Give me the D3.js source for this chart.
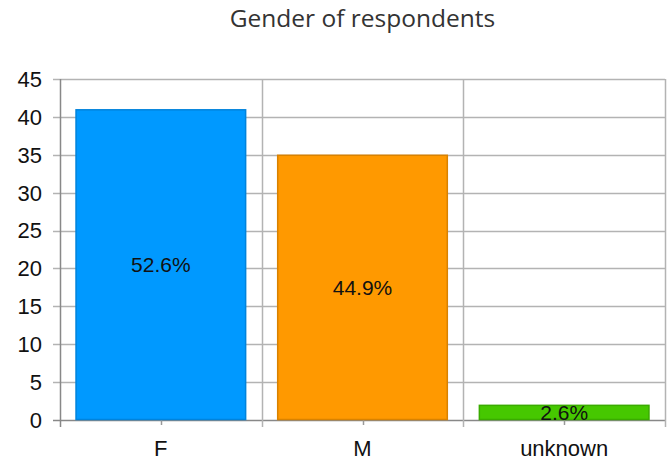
<!DOCTYPE html>
<html>
<head>
<meta charset="utf-8">
<script src="https://cdn.jsdelivr.net/npm/d3@7"></script>
<style>
  body { margin: 0; background: #fff; }
  svg { display: block; }
</style>
</head>
<body>
<div id="canvas"></div>
<script>
var categories = ['F', 'M', 'unknown'];
var counts = [41, 35, 2];
var percentLabels = ['52.6%', '44.9%', '2.6%'];
var yTicks = [0, 5, 10, 15, 20, 25, 30, 35, 40, 45];
var fills = ['#0099ff', '#ff9900', '#46c800'];
var strokes = ['#0083dc', '#d98200', '#3aab00'];

var W = 669, H = 461;
var m = {t: 79, r: 4, b: 41, l: 60},
    w = W - m.l - m.r,
    h = H - m.t - m.b;

var svg = d3.select('#canvas').append('svg')
    .attr('width', W)
    .attr('height', H);

svg.append('text')
    .attr('x', m.l + w / 2)
    .attr('y', 27)
    .attr('text-anchor', 'middle')
    .style('font-family', '"Open Sans", sans-serif')
    .style('font-size', '24.5px')
    .style('fill', '#333')
    .text('Gender of respondents');

var plot = svg.append('g')
    .attr('transform', 'translate(' + m.l + ',' + m.t + ')');

var x = d3.scaleBand().domain(categories).range([0, w]).paddingInner(0.154).paddingOuter(0.077);
var xb = d3.scaleBand().domain(categories).range([0, w]);
var y = d3.scaleLinear().domain([0, 45]).range([h, 0]);

// horizontal gridlines
plot.selectAll('.hgrid')
    .data(yTicks)
    .enter().append('line')
    .attr('x1', -7).attr('x2', w)
    .attr('y1', function(d) { return Math.round(y(d)) + 0.5; })
    .attr('y2', function(d) { return Math.round(y(d)) + 0.5; })
    .style('stroke', function(d) { return d === 0 ? '#888' : '#b3b3b3'; })
    .style('stroke-width', 1.5);

// vertical gridlines at category boundaries
var bounds = categories.map(function(c) { return xb(c); }).concat([w]);
plot.selectAll('.vgrid')
    .data(bounds)
    .enter().append('line')
    .attr('x1', function(d) { return Math.round(d) + 0.5; })
    .attr('x2', function(d) { return Math.round(d) + 0.5; })
    .attr('y1', 0).attr('y2', h + 7)
    .style('stroke', function(d, i) { return i === 0 ? '#888' : '#b3b3b3'; })
    .style('stroke-width', 1.5);

// short ticks at category centers
plot.selectAll('.ctick')
    .data(categories)
    .enter().append('line')
    .attr('x1', function(d) { return Math.round(xb(d) + xb.bandwidth() / 2) + 0.5; })
    .attr('x2', function(d) { return Math.round(xb(d) + xb.bandwidth() / 2) + 0.5; })
    .attr('y1', h).attr('y2', h + 5)
    .style('stroke', '#999')
    .style('stroke-width', 1.5);

// bars
plot.selectAll('.bar')
    .data(counts)
    .enter().append('rect')
    .attr('x', function(d, i) { return x(categories[i]) + 0.5; })
    .attr('y', function(d) { return y(d) + 0.5; })
    .attr('width', x.bandwidth() - 1)
    .attr('height', function(d) { return h - y(d) - 1; })
    .style('fill', function(d, i) { return fills[i]; })
    .style('stroke', function(d, i) { return strokes[i]; })
    .style('stroke-width', 1.5);

// bar labels
plot.selectAll('.lbl')
    .data(counts)
    .enter().append('text')
    .attr('x', function(d, i) { return x(categories[i]) + x.bandwidth() / 2; })
    .attr('y', function(d) { return y(d / 2); })
    .attr('dy', '0.35em')
    .attr('text-anchor', 'middle')
    .style('font-family', '"Liberation Sans", Arial, sans-serif')
    .style('font-size', '21px')
    .style('fill', '#111')
    .text(function(d, i) { return percentLabels[i]; });

// y tick labels
plot.selectAll('.ylab')
    .data(yTicks)
    .enter().append('text')
    .attr('x', -18)
    .attr('y', function(d) { return y(d); })
    .attr('dy', '0.36em')
    .attr('text-anchor', 'end')
    .style('font-family', '"Liberation Sans", Arial, sans-serif')
    .style('font-size', '22px')
    .style('fill', '#111')
    .text(function(d) { return d; });

// x labels
plot.selectAll('.xlab')
    .data(categories)
    .enter().append('text')
    .attr('x', function(d) { return xb(d) + xb.bandwidth() / 2; })
    .attr('y', h + 36)
    .attr('text-anchor', 'middle')
    .style('font-family', '"Liberation Sans", Arial, sans-serif')
    .style('font-size', '22px')
    .style('fill', '#111')
    .text(function(d) { return d; });
</script>
</body>
</html>
